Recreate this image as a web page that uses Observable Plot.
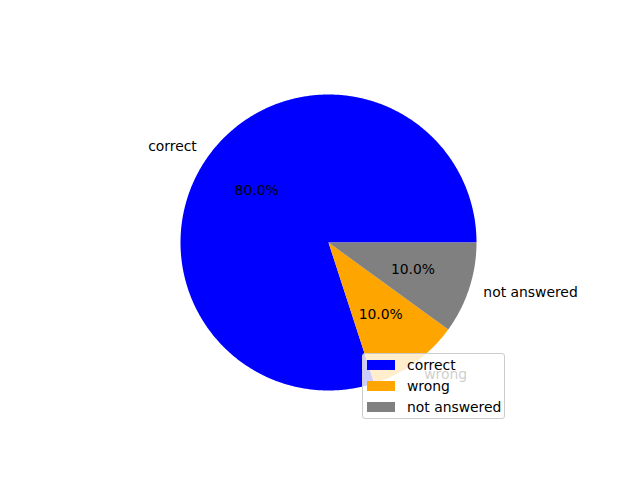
<!DOCTYPE html>
<html>
<head>
<meta charset="utf-8">
<script src="https://cdn.jsdelivr.net/npm/d3@7"></script>
<script src="https://cdn.jsdelivr.net/npm/@observablehq/plot@0.6"></script>
<style>
  body { margin: 0; background: #fff; }
  #wrap { position: relative; width: 640px; height: 480px; font-family: "DejaVu Sans", sans-serif; }
  #legend {
    position: absolute; left: 362px; top: 353px; width: 143px; height: 66px;
    background: rgba(255,255,255,0.8); border: 1px solid #cccccc; border-radius: 3px;
    box-sizing: border-box; font-size: 13.9px; color: #000;
  }
  .row { position: absolute; left: 0; height: 20px; display: flex; align-items: center; }
  .sw { position: absolute; left: 4px; width: 28px; height: 10px; }
  .lab { position: absolute; left: 44px; white-space: nowrap; line-height: 16px; }
</style>
</head>
<body>
<div id="wrap"></div>
<script>
const labels = ["correct", "wrong", "not answered"];
const values = [80, 10, 10];
const colors = ["blue", "orange", "gray"];

const total = d3.sum(values);
// wedges, matplotlib style: start at 0 degrees, counterclockwise
const wedges = [];
let acc = 0;
labels.forEach((lab, i) => {
  const a0 = acc / total * 2 * Math.PI;
  acc += values[i];
  const a1 = acc / total * 2 * Math.PI;
  wedges.push({label: lab, value: values[i], a0, a1, mid: (a0 + a1) / 2});
});

const pts = [];
for (const w of wedges) {
  pts.push({label: w.label, x: 0, y: 0});
  const n = Math.max(2, Math.ceil((w.a1 - w.a0) / (Math.PI / 360)));
  for (let k = 0; k <= n; k++) {
    const a = w.a0 + (w.a1 - w.a0) * k / n;
    pts.push({label: w.label, x: Math.cos(a), y: Math.sin(a)});
  }
  pts.push({label: w.label, x: 0, y: 0});
}

const outer = wedges.map(w => ({label: w.label, x: 1.1 * Math.cos(w.mid), y: 1.1 * Math.sin(w.mid)}));
const inner = wedges.map(w => ({text: (w.value / total * 100).toFixed(1) + "%", x: 0.6 * Math.cos(w.mid), y: 0.6 * Math.sin(w.mid)}));

const chart = Plot.plot({
  width: 640, height: 480,
  margin: 0,
  style: {fontFamily: "DejaVu Sans, sans-serif", background: "white"},
  x: {domain: [-1, 1], range: [180, 476], axis: null},
  y: {domain: [-1, 1], range: [390, 94], axis: null},
  color: {domain: labels, range: colors},
  marks: [
    Plot.line(pts, {x: "x", y: "y", z: "label", fill: "label", stroke: "none"}),
    Plot.text(outer.filter(d => d.x < 0), {x: "x", y: "y", text: "label", textAnchor: "end", fontSize: 13.9, fill: "black"}),
    Plot.text(outer.filter(d => d.x >= 0), {x: "x", y: "y", text: "label", textAnchor: "start", fontSize: 13.9, fill: "black"}),
    Plot.text(inner, {x: "x", y: "y", text: "text", textAnchor: "middle", fontSize: 13.9, fill: "black"})
  ]
});
const wrap = document.getElementById("wrap");
wrap.appendChild(chart);

const legend = document.createElement("div");
legend.id = "legend";
labels.forEach((lab, i) => {
  const sw = document.createElement("div");
  sw.className = "sw";
  sw.style.background = colors[i];
  sw.style.top = (6 + i * 21) + "px";
  legend.appendChild(sw);
  const t = document.createElement("div");
  t.className = "lab";
  t.textContent = lab;
  t.style.top = (3 + i * 21) + "px";
  legend.appendChild(t);
});
wrap.appendChild(legend);
</script>
</body>
</html>
